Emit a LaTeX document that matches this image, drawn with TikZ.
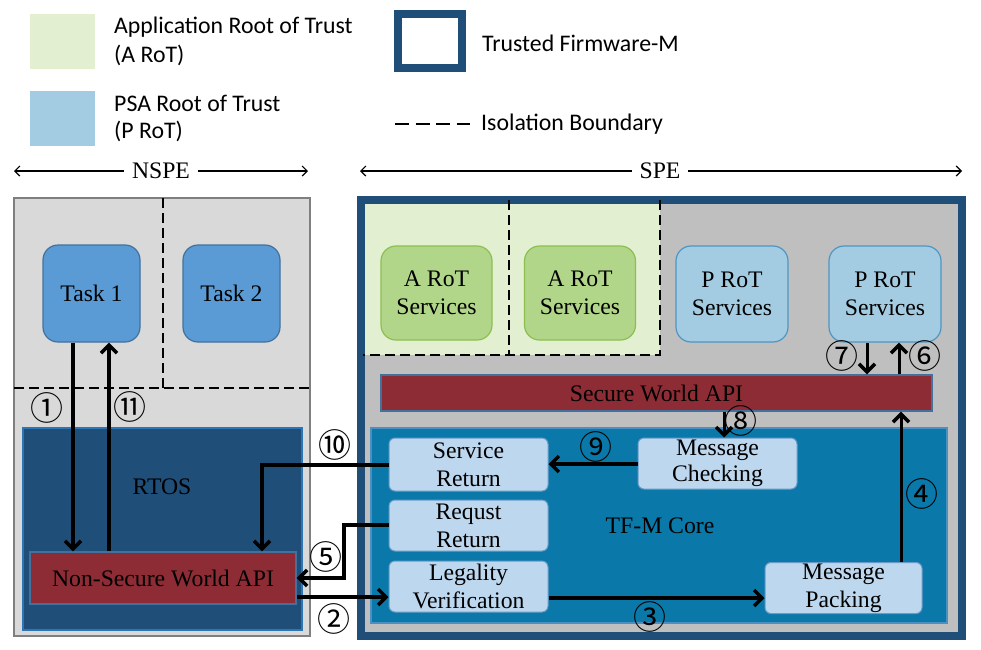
\documentclass[tikz,border=0pt]{standalone}
\usepackage{fontspec}
\setmainfont{Liberation Serif}
\newfontfamily\legfont{Carlito}
\newfontfamily\cjkfont{Noto Sans CJK SC}
\usetikzlibrary{arrows.meta,calc}
\definecolor{nsbg}{HTML}{D9D9D9}
\definecolor{nsborder}{HTML}{7F7F7F}
\definecolor{spebg}{HTML}{BFBFBF}
\definecolor{tfm}{HTML}{1F4E79}
\definecolor{taskfill}{HTML}{5B9BD5}
\definecolor{taskdraw}{HTML}{41719C}
\definecolor{rtosdraw}{HTML}{2E75B6}
\definecolor{apired}{HTML}{8E2C35}
\definecolor{corefill}{HTML}{0A78A8}
\definecolor{coredraw}{HTML}{4A90C0}
\definecolor{lbfill}{HTML}{BDD7EE}
\definecolor{lbdraw}{HTML}{6A9BC8}
\definecolor{arotbg}{HTML}{E2EFD0}
\definecolor{arotfill}{HTML}{B1D68A}
\definecolor{arotdraw}{HTML}{8CBF4F}
\definecolor{protfill}{HTML}{A3CCE2}
\definecolor{protdraw}{HTML}{4E95C2}
\tikzset{
  box/.style={draw, minimum width=#1, inner sep=0pt, align=center, font=\fontsize{23.7}{28}\selectfont},
  taskbox/.style={box=97pt, minimum height=97pt, fill=taskfill, draw=taskdraw, line width=1.2pt, rounded corners=15pt},
  arotbox/.style={box=111pt, minimum height=94pt, fill=arotfill, draw=arotdraw, line width=1.2pt, rounded corners=15pt},
  protbox/.style={box=112pt, minimum height=96pt, fill=protfill, draw=protdraw, line width=1.2pt, rounded corners=15pt},
  apibox/.style={box=#1, fill=apired, draw=taskdraw, line width=1.2pt},
  corebox/.style={box=159pt, fill=lbfill, draw=lbdraw, line width=1pt, rounded corners=6pt},
  arr/.style={line width=3.5pt, -{Straight Barb[length=8pt,width=16pt,line width=3.5pt]}},
  thinarr/.style={line width=1.2pt, {Straight Barb[length=5pt,width=10pt]}-{Straight Barb[length=5pt,width=10pt]}},
  num/.style={font=\cjkfont\fontsize{33}{33}\selectfont, inner sep=0pt},
  leg/.style={anchor=west, inner sep=0pt, font=\legfont\fontsize{23.8}{28}\selectfont},
  iso/.style={line width=2pt, dash pattern=on 10pt off 5pt},
  legiso/.style={line width=2pt, dash pattern=on 14pt off 6.5pt},
  lbl/.style={inner sep=0pt, font=\fontsize{23.7}{28}\selectfont}
}
\begin{document}
\begin{tikzpicture}[x=1pt,y=-1pt]
\useasboundingbox (0,0) rectangle (981,649);
\fill[white] (0,0) rectangle (981,649);
% legend
\node[fill=arotbg, minimum width=65pt, minimum height=55pt, inner sep=0pt] (legA) at (62.5,41.5) {};
\node[fill=protfill, minimum width=65pt, minimum height=55pt, inner sep=0pt] (legP) at (62.5,118.5) {};
\node[leg] (legAt1) at (114,27) {Application Root of Trust};
\node[leg] (legAt2) at (114,55) {(A RoT)};
\node[leg] (legPt1) at (114,103) {PSA Root of Trust};
\node[leg] (legPt2) at (114,131) {(P RoT)};
\node[draw=tfm, line width=8pt, minimum width=64pt, minimum height=54pt, inner sep=0pt] (legT) at (430,41) {};
\node[leg] (legTt) at (482,43) {Trusted Firmware-M};
\coordinate (isoA) at (395,124);
\coordinate (isoB) at (470,124);
\draw[legiso] (isoA) -- (isoB);
\node[leg] (legIt) at (481,124) {Isolation Boundary};
% NSPE / SPE arrows
\coordinate (nsL) at (14,171);
\coordinate (nsR) at (308,171);
\coordinate (spL) at (360,171);
\coordinate (spR) at (962,171);
\draw[thinarr] (nsL) -- (nsR);
\draw[thinarr] (spL) -- (spR);
\node[lbl, fill=white, inner xsep=8pt] (nspeT) at (161,171) {NSPE};
\node[lbl, fill=white, inner xsep=8pt] (speT) at (660,171) {SPE};
% NSPE side
\node[draw=nsborder, fill=nsbg, line width=1.5pt, minimum width=296pt, minimum height=438pt, inner sep=0pt] (nspe) at (162,417) {};
\coordinate (nsV1) at (163,198);
\coordinate (nsV2) at (163,388);
\coordinate (nsH1) at (14,388);
\coordinate (nsH2) at (313,388);
\draw[iso] (nsV1) -- (nsV2);
\draw[iso] (nsH1) -- (nsH2);
\node[taskbox] (task1) at (91.5,293.5) {Task 1};
\node[taskbox] (task2) at (231.5,293.5) {Task 2};
\node[draw=rtosdraw, fill=tfm, line width=1.5pt, minimum width=279pt, minimum height=202pt, inner sep=0pt] (rtos) at (162.5,529) {};
\node[lbl] (rtosT) at (162,487) {RTOS};
\node[apibox=266pt, minimum height=52pt] (nsapi) at (163,578) {Non-Secure World API};
% SPE side
\node[draw=tfm, fill=spebg, line width=8pt, minimum width=601pt, minimum height=436pt, inner sep=0pt] (spe) at (661.5,418) {};
\coordinate (grTL) at (365,204);
\coordinate (grBR) at (660,355);
\fill[arotbg] (grTL) rectangle (grBR);
\coordinate (grTR) at (660,200);
\coordinate (grBL) at (363,355);
\draw[iso] (grTR) -- (grBR) -- (grBL);
\coordinate (grV1) at (509,200);
\coordinate (grV2) at (509,355);
\draw[iso] (grV1) -- (grV2);
\node[arotbox] (arot1) at (436.5,293) {A RoT\\Services};
\node[arotbox] (arot2) at (580,293) {A RoT\\Services};
\node[protbox] (prot1) at (732,294) {P RoT\\Services};
\node[protbox] (prot2) at (885,294) {P RoT\\Services};
\node[apibox=551pt, minimum height=36pt] (swapi) at (656.5,393) {Secure World API};
\node[draw=coredraw, fill=corefill, line width=1.5pt, minimum width=576pt, minimum height=195pt, inner sep=0pt] (core) at (659,525.5) {};
\node[lbl] (coreT) at (660,526) {TF-M Core};
\node[corebox, minimum height=53pt] (sret) at (468.5,464.5) {Service\\Return};
\node[corebox, minimum height=51pt] (rret) at (468.5,525.5) {Requst\\Return};
\node[corebox, minimum height=51pt] (legal) at (468.5,586.5) {Legality\\Verification};
\node[corebox, minimum height=51pt] (mcheck) at (717.5,463.5) {\raisebox{-2pt}{Message}\\Checking};
\node[corebox, box=157pt, minimum height=51pt] (mpack) at (843.5,588) {Message\\Packing};
% arrows
\draw[arr] (task1.south -| 73,0) -- (nsapi.north -| 73,0);
\draw[arr] (nsapi.north -| 109,0) -- (task1.south -| 109,0);
\draw[arr] (nsapi.east |- 0,597) -- (legal.west |- 0,597);
\draw[arr] (legal.east |- 0,598) -- (mpack.west |- 0,598);
\draw[arr, line width=3pt] (mpack.north -| 901,0) -- (swapi.south -| 901,0);
\coordinate (r5) at (344,525);
\draw[arr] (rret.west |- r5) -- (r5) |- (nsapi.east);
\draw[arr, line width=3pt] (swapi.north -| 899,0) -- (prot2.south -| 899,0);
\draw[arr, line width=3pt] (prot2.south -| 867,0) -- (swapi.north -| 867,0);
\draw[arr, line width=3pt] (swapi.south -| 724,0) -- (mcheck.north -| 724,0);
\draw[arr] (mcheck.west |- 0,464) -- (sret.east |- 0,464);
\coordinate (r10) at (262,465);
\draw[arr] (sret.west |- r10) -- (r10) -- (nsapi.north -| r10);
% circled numbers
\node[num] (c1) at (47,408) {①};
\node[num] (c11) at (130,407) {⑪};
\node[num] (c10) at (335,445) {⑩};
\node[num] (c5) at (326,557) {⑤};
\node[num] (c2) at (334,619) {②};
\node[num] (c3) at (650,617) {③};
\node[num] (c4) at (922,494) {④};
\node[num] (c7) at (842,356) {⑦};
\node[num] (c6) at (925,356) {⑥};
\node[num] (c8) at (741,421) {⑧};
\node[num] (c9) at (596,447) {⑨};
\end{tikzpicture}
\end{document}
